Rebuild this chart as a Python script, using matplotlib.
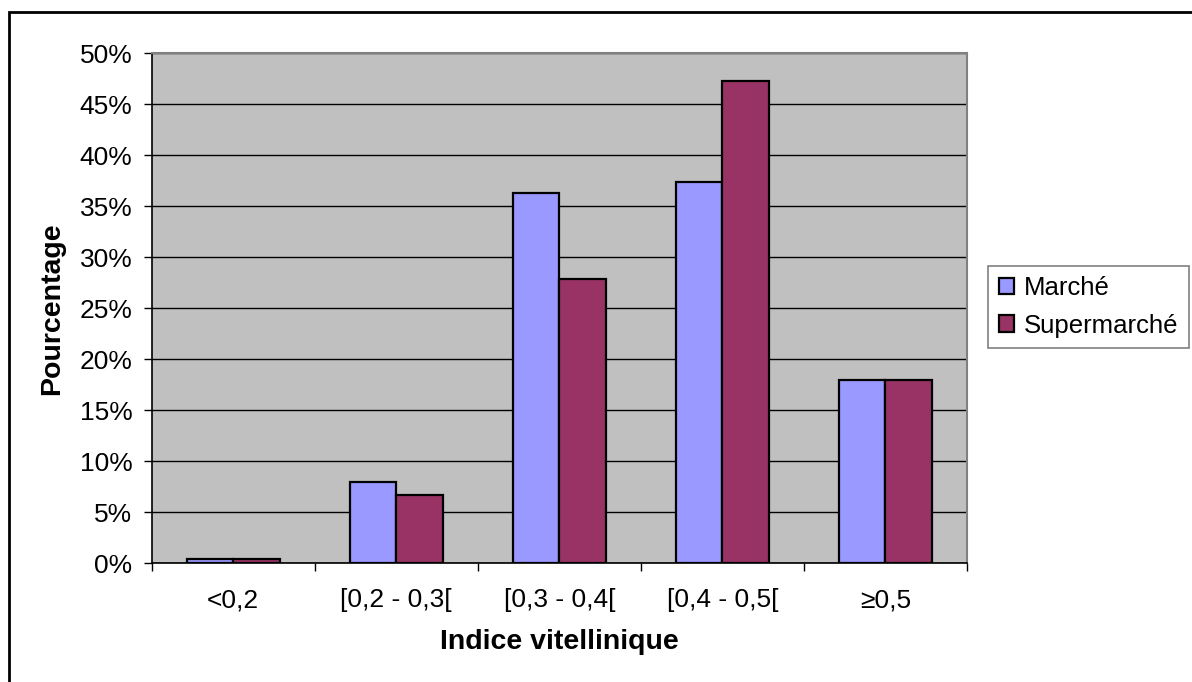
import matplotlib
matplotlib.use("Agg")
import matplotlib.pyplot as plt
import numpy as np
from matplotlib.patches import Rectangle
from matplotlib.ticker import FuncFormatter, FixedLocator

# data (percent)
categories = ["<0,2", "[0,2 - 0,3[", "[0,3 - 0,4[", "[0,4 - 0,5[", "\u22650,5"]
marche = [0.4, 8.0, 36.3, 37.4, 18.0]
supermarche = [0.4, 6.7, 27.9, 47.3, 18.0]
series_names = ["Marché", "Supermarché"]
yticks = list(range(0, 51, 5))

C_MARCHE, C_SUPER = "#9999FF", "#993366"
PLOT_BG, GRAY_EDGE = "#C0C0C0", "#808080"

plt.rcParams.update({"font.family": ["Liberation Sans", "DejaVu Sans"],
                     "font.size": 19})

W, H = 1192, 682
fig = plt.figure(figsize=(W / 100, H / 100), dpi=100)
ax = fig.add_axes([151.7 / W, (H - 563.3) / H, (967 - 151.7) / W, 510 / H])
ax.set_facecolor(PLOT_BG)

x = np.arange(len(categories))
w = 1 / 3.5   # Excel gap width 150%
ax.bar(x - w / 2, marche, w, color=C_MARCHE, edgecolor="black", lw=1.6,
       label=series_names[0], zorder=3)
ax.bar(x + w / 2, supermarche, w, color=C_SUPER, edgecolor="black", lw=1.6,
       label=series_names[1], zorder=3)

ax.set_xlim(-0.5, len(categories) - 0.5)
ax.set_ylim(0, 50)
ax.set_yticks(yticks)
ax.yaxis.set_major_formatter(FuncFormatter(lambda v, _: f"{v:.0f}%"))
ax.grid(axis="y", color="black", lw=1, zorder=1)
ax.set_axisbelow(True)

ax.set_xticks(x)
ax.set_xticklabels(categories)
ax.xaxis.set_minor_locator(FixedLocator(np.arange(-0.5, len(categories), 1)))
ax.tick_params(axis="x", which="major", length=0, pad=18)
ax.tick_params(axis="x", which="minor", length=6, width=1, color="black")
ax.tick_params(axis="y", length=6, width=1, color="black", pad=8)

for s in ("top", "right"):
    ax.spines[s].set_color(GRAY_EDGE)
    ax.spines[s].set_linewidth(1.5)
for s in ("left", "bottom"):
    ax.spines[s].set_color("black")
    ax.spines[s].set_linewidth(1.2)

ax.set_xlabel("Indice vitellinique", fontweight="bold", fontsize=20.5,
              labelpad=12)
ax.set_ylabel("Pourcentage", fontweight="bold", fontsize=20.5, labelpad=10)

leg = ax.legend(loc="center left", bbox_to_anchor=(988 / W, (H - 307) / H),
                bbox_transform=fig.transFigure, fancybox=False,
                edgecolor=GRAY_EDGE, framealpha=1, borderpad=0.4,
                handlelength=0.6, handleheight=0.6, handletextpad=0.35,
                labelspacing=0.5, borderaxespad=0)
leg.get_frame().set_linewidth(1.2)
for t in leg.get_texts():
    t.set_fontsize(18.5)
leg._legend_box.align = "left"

# outer chart-area border (only the left/top edges fall inside the image)
fig.add_artist(Rectangle((9 / W, -0.1), 1.2, (H - 12) / H + 0.1,
                         transform=fig.transFigure, fill=False,
                         ec="black", lw=2, clip_on=False))

fig.savefig("out.png", dpi=100)
